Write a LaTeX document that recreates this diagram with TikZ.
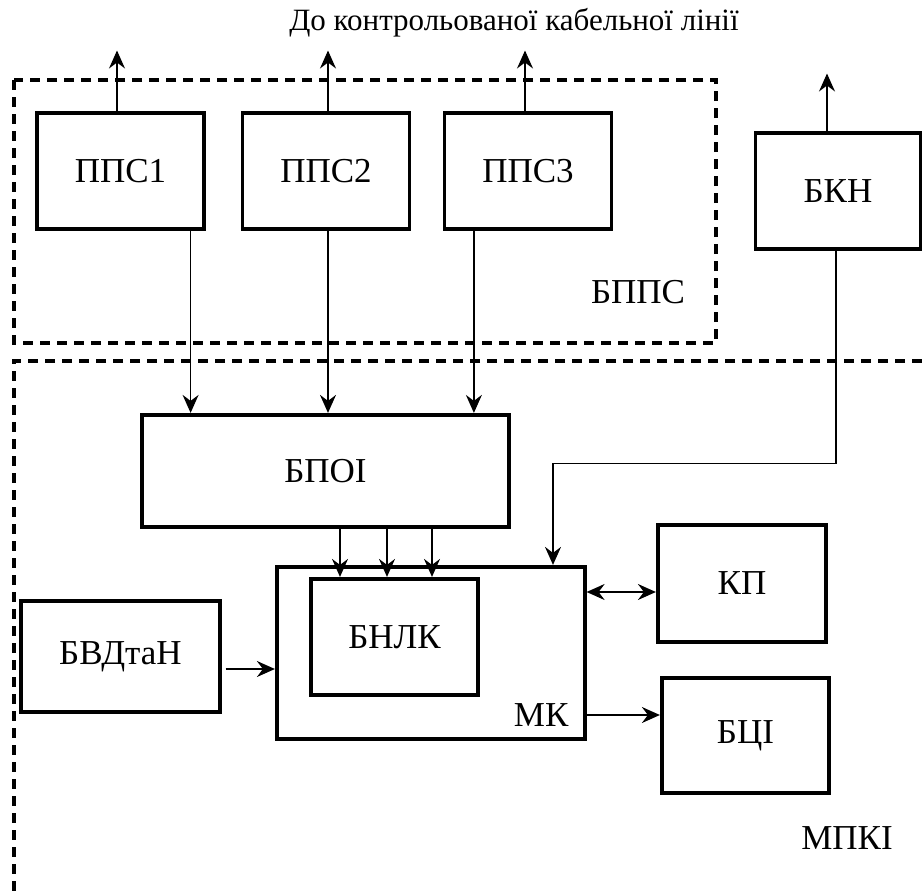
\documentclass[tikz,border=0pt]{standalone}
\usepackage{fontspec}
\setmainfont{Liberation Serif}
\usetikzlibrary{arrows.meta,positioning}

\begin{document}
\begin{tikzpicture}[x=1pt,y=-1pt,>={Stealth[length=18pt,width=16pt,inset=6pt]},shorten >=0.5pt,node distance=204pt,
    block/.style={draw,line width=3.2pt,inner sep=0pt,minimum width=167pt,minimum height=116pt,font=\fontsize{35}{40}\selectfont},
    link/.style={line width=1.4pt},
    frame/.style={line width=3.2pt,dash pattern=on 10pt off 7pt},
    caption/.style={font=\fontsize{35}{40}\selectfont,inner sep=0pt}]

            \useasboundingbox (0,0) rectangle (922,894);

            \node (top) [font=\fontsize{31}{36}\selectfont,inner sep=0pt] at (514,23) {До контрольованої кабельної лінії};

            \draw[frame] (14,80) rectangle (716,343);
            \draw[frame] (922,361) -- (14,361) -- (14,894);
            \node[caption] (bppslabel) at (638,292) {БППС};
            \node[caption] (mpkilabel) at (847,838) {МПКІ};

            \node[block] (pps1) at (120.5,171) {ППС1};
            \node[block] (pps2) [right of = pps1, xshift=1.5pt] {ППС2};
            \node[block] (pps3) [right of = pps2, xshift=-2pt] {ППС3};
            \node[block, minimum width=165pt] (bkn) at (838,191) {БКН};
            \node[block, minimum width=367pt, minimum height=112pt] (bpoi) at (325.5,471) {БПОІ};
            \node[block, minimum width=308pt, minimum height=172pt] (mk) at (431,653) {};
            \node[block] (bnlk) at (394.5,637) {БНЛК};
            \node[caption, anchor=base east] (mklabel) at ([xshift=-18pt,yshift=14pt]mk.south east) {МК};
            \node[block, minimum width=199pt, minimum height=111pt] (bvd) at (120.5,656.5) {БВДтаН};
            \node[block, minimum width=168pt, minimum height=117pt] (kp) at (742,583.5) {КП};
            \node[block, minimum height=115pt] (bci) at (745.5,735.5) {БЦІ};

            \coordinate (out1) at (117,50);
            \coordinate (out2) at (328,50);
            \coordinate (out3) at (525,50);
            \coordinate (out4) at (827,73);
            \coordinate (kpin) at ([yshift=-8.5pt]kp.west);
            \coordinate (bciin) at ([yshift=20.5pt]bci.west);
            \coordinate (bvdout) at ([xshift=4pt,yshift=-12.5pt]bvd.east);

            \draw[link,->] (pps1.north -| out1) to (out1);
            \draw[link,->] (pps2.north -| out2) to (out2);
            \draw[link,->] (pps3.north -| out3) to (out3);
            \draw[link,->] (bkn.north -| out4) to (out4);

            \draw[link,->] ([xshift=-15pt]pps1.south east) to ([xshift=-15pt]pps1.south east |- bpoi.north);
            \draw[link,->] ([xshift=2pt]pps2.south) to ([xshift=2pt]pps2.south |- bpoi.north);
            \draw[link,->] ([xshift=31pt]pps3.south west) to ([xshift=31pt]pps3.south west |- bpoi.north);

            \foreach \dx in {14.5,61.5,106.5}
                \draw[link,->] ([xshift=\dx pt]bpoi.south) to ([xshift=\dx pt]bpoi.south |- bnlk.north);

            \draw[link,->] ([xshift=-2pt]bkn.south) -- ++(0,213) -| ([xshift=122pt]mk.north);
            \draw[link,<->] (mk.east |- kpin) to (kpin);
            \draw[link,->] (mk.east |- bciin) to (bciin);
            \draw[link,->] (bvdout) to (mk.west |- bvdout);

            ;
        \end{tikzpicture}
\end{document}
